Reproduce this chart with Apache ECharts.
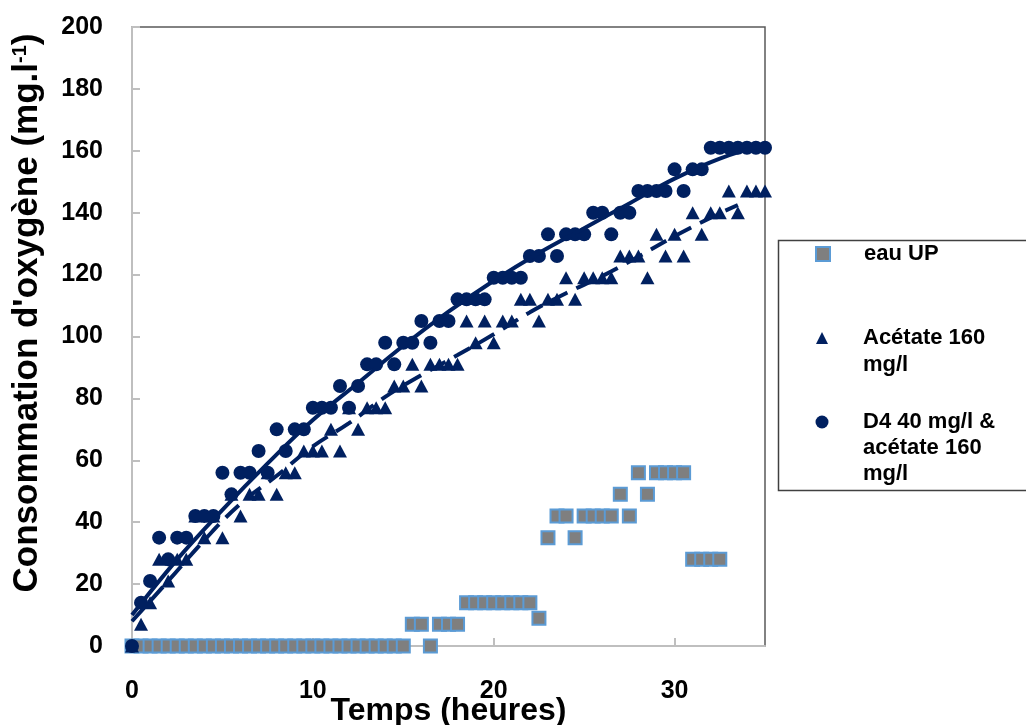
<!DOCTYPE html>
<html><head><meta charset="utf-8">
<script src="https://cdn.jsdelivr.net/npm/echarts@6/dist/echarts.min.js"></script>
<style>html,body{margin:0;padding:0;background:#fff}#c{width:1026px;height:725px}</style>
</head><body><div id="c"></div>
<script>
// Time axis (hours)
const hours = [0,0.5,1,1.5,2,2.5,3,3.5,4,4.5,5,5.5,6,6.5,7,7.5,8,8.5,9,9.5,10,10.5,11,11.5,12,12.5,13,13.5,14,14.5,15,15.5,16,16.5,17,17.5,18,18.5,19,19.5,20,20.5,21,21.5,22,22.5,23,23.5,24,24.5,25,25.5,26,26.5,27,27.5,28,28.5,29,29.5,30,30.5,31,31.5,32,32.5,33,33.5,34,34.5,35];
// eau UP (0 h .. 32.5 h)
const eauUP = [0,0,0,0,0,0,0,0,0,0,0,0,0,0,0,0,0,0,0,0,0,0,0,0,0,0,0,0,0,0,0,
  7,7,0,7,7,7,14,14,14,14,14,14,14,14,9,35,42,42,35,42,42,42,42,49,42,56,49,56,56,56,56,28,28,28,28];
// Acétate 160 mg/l
const acetate = [0,7,14,28,21,28,28,42,35,42,35,49,42,49,49,56,49,56,56,63,63,63,70,63,77,70,77,77,77,84,84,91,84,91,91,91,91,105,98,105,98,105,105,112,112,105,112,112,119,112,119,119,119,119,126,126,126,119,133,126,133,126,140,133,140,140,147,140,147,147,147];
// D4 40 mg/l & acétate 160 mg/l
const d4 = [0,14,21,35,28,35,35,42,42,42,56,49,56,56,63,56,70,63,70,70,77,77,77,84,77,84,91,91,98,91,98,98,105,98,105,105,112,112,112,112,119,119,119,119,126,126,133,126,133,133,133,140,140,133,140,140,147,147,147,147,154,147,154,154,161,161,161,161,161,161,161];
// Trend lines
const d4TrendHours = [0,2.5,5,7.5,10,12.5,15,17.5,20,22.5,25,27.5,30,32.5,35];
const d4Trend = [10,28,44,59,73,85,97,108,118,127,135,143,151,157.5,162];
const acetateTrendHours = [0,2,4,6,8,10,12,14,16,18,20,22,24,26,28,30,32,33.5];
const acetateTrend = [8,21,34.2,46,55,64.5,72,80.5,87.5,94,100.7,107.8,114,119.5,125.8,132.4,138.4,142.5];

const seriesNames = ['eau UP', 'Acétate 160 mg/l', 'D4 40 mg/l & acétate 160 mg/l'];
const legendLines = [['eau UP'], ['Acétate 160', 'mg/l'], ['D4 40 mg/l &', 'acétate 160', 'mg/l']];

function pairs(xs, ys) { return ys.map((y, i) => [xs[i], y]); }

const NAVY = '#002060';
const FONT = '"Liberation Sans", Arial, sans-serif';
const chart = echarts.init(document.getElementById('c'), null, {renderer: 'canvas'});

function legendFor(idx, top, size, lh, blanks) {
  const spacer = 863 - (822 - size / 2) - size - 5;
  return {
    data: [seriesNames[idx]],
    left: 822 - size / 2,
    top: top,
    padding: 0,
    itemWidth: size,
    itemHeight: size,
    selectedMode: false,
    formatter: function () {
      const lines = [];
      for (let i = 0; i < blanks; i++) lines.push('{t| }');
      legendLines[idx].forEach(l => lines.push('{s|}{t|' + l + '}'));
      return lines.join('\n');
    },
    textStyle: {
      color: '#000', fontFamily: FONT, fontWeight: 'bold', fontSize: 22, lineHeight: lh,
      rich: {
        s: {width: spacer, lineHeight: lh},
        t: {color: '#000', fontFamily: FONT, fontWeight: 'bold', fontSize: 22, lineHeight: lh}
      }
    }
  };
}

const option = {
  animation: false,
  backgroundColor: '#fff',
  grid: {left: 132, top: 27, width: 633, height: 619, show: true, borderColor: '#595959', borderWidth: 1.5,
         backgroundColor: 'transparent', containLabel: false, outerBoundsMode: 'none'},
  xAxis: {
    type: 'value', min: 0, max: 35, interval: 10,
    axisLine: {show: true, onZero: false, lineStyle: {color: '#BFBFBF', width: 2}},
    axisTick: {show: true, inside: true, length: 8, lineStyle: {color: '#BFBFBF', width: 2}},
    splitLine: {show: false},
    axisLabel: {showMaxLabel: false, color: '#000', fontFamily: FONT, fontWeight: 'bold', fontSize: 25, margin: 33},
    name: 'Temps (heures)', nameLocation: 'middle', nameGap: 49, nameMoveOverlap: false,
    nameTextStyle: {color: '#000', fontFamily: FONT, fontWeight: 'bold', fontSize: 32}
  },
  yAxis: {
    type: 'value', min: 0, max: 200, interval: 20,
    axisLine: {show: true, onZero: false, lineStyle: {color: '#BFBFBF', width: 2}},
    axisTick: {show: true, inside: true, length: 8, lineStyle: {color: '#BFBFBF', width: 2}},
    splitLine: {show: false},
    axisLabel: {color: '#000', fontFamily: FONT, fontWeight: 'bold', fontSize: 25, margin: 29},
    name: "Consommation d'oxygène (mg.l{sup|-1})", nameLocation: 'middle', nameGap: 87, nameMoveOverlap: false,
    nameTextStyle: {
      color: '#000', fontFamily: FONT, fontWeight: 'bold', fontSize: 35, padding: [0, 0, 0, 47],
      rich: {sup: {fontFamily: FONT, fontWeight: 'bold', fontSize: 20, color: '#000', verticalAlign: 'top', lineHeight: 35}}
    }
  },
  graphic: [{
    type: 'rect', left: 776, top: 238, z: 1,
    shape: {width: 300, height: 250},
    style: {fill: 'none', stroke: '#404040', lineWidth: 1.5}
  }],
  legend: [
    legendFor(0, 254 - 13.5, 14, 27, 0),
    legendFor(1, 338 - 40.5, 12, 27, 1),
    legendFor(2, 422 - 65, 13, 26, 2)
  ],
  series: [
    {
      name: seriesNames[0], type: 'scatter', clip: false,
      data: pairs(hours, eauUP), symbol: 'rect', symbolSize: 13,
      itemStyle: {color: '#7F7F7F', borderColor: '#5B9BD5', borderWidth: 2, opacity: 1}
    },
    {
      name: seriesNames[1], type: 'scatter', clip: false,
      data: pairs(hours, acetate), symbol: 'triangle', symbolSize: [14, 13],
      itemStyle: {color: NAVY, opacity: 1}
    },
    {
      name: seriesNames[2], type: 'scatter', clip: false,
      data: pairs(hours, d4), symbol: 'circle', symbolSize: 14,
      itemStyle: {color: NAVY, opacity: 1}
    },
    {
      name: 'acetateTrend', type: 'line', data: pairs(acetateTrendHours, acetateTrend),
      smooth: 0.4, showSymbol: false, symbol: 'none', silent: true,
      lineStyle: {color: NAVY, width: 4, type: [18, 10], cap: 'butt'}
    },
    {
      name: 'd4Trend', type: 'line', data: pairs(d4TrendHours, d4Trend),
      smooth: 0.4, showSymbol: false, symbol: 'none', silent: true,
      lineStyle: {color: NAVY, width: 4, type: 'solid'}
    }
  ]
};
chart.setOption(option);
</script></body></html>
